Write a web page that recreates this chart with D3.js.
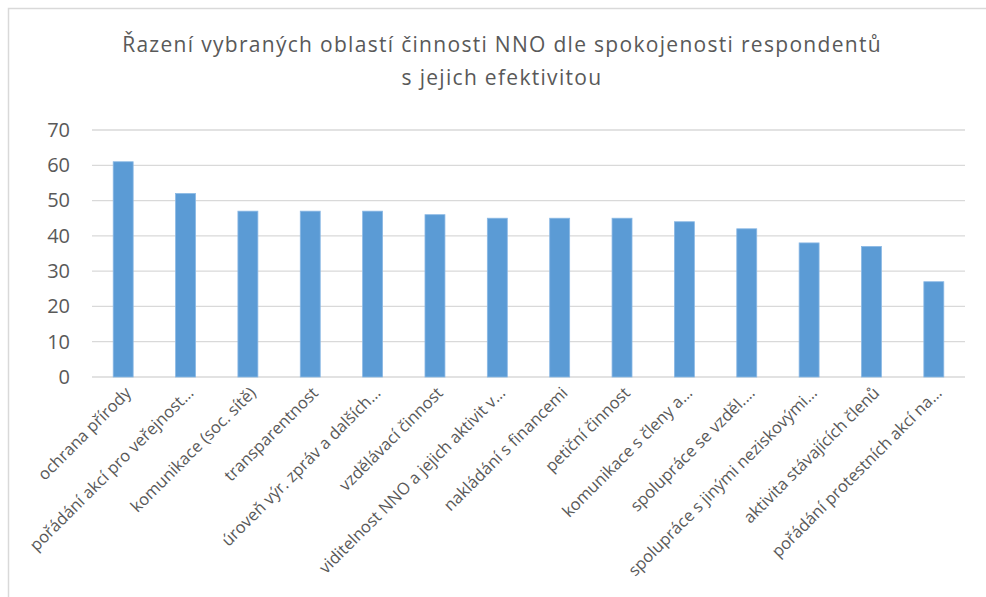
<!DOCTYPE html>
<html lang="cs">
<head>
<meta charset="utf-8">
<title>Řazení oblastí činnosti NNO</title>
<script src="https://d3js.org/d3.v7.min.js"></script>
<style>
  body { margin: 0; background: #fff; }
  text { font-family: "Open Sans", "Noto Sans", sans-serif; fill: #595959; }
</style>
</head>
<body>
<div id="chart"></div>
<script>
// data
const categories = [
  "ochrana přírody",
  "pořádání akcí pro veřejnost…",
  "komunikace (soc. sítě)",
  "transparentnost",
  "úroveň výr. zpráv a dalších…",
  "vzdělávací činnost",
  "viditelnost NNO a jejich aktivit v…",
  "nakládání s financemi",
  "petiční činnost",
  "komunikace s členy a…",
  "spolupráce se vzděl.…",
  "spolupráce s jinými neziskovými…",
  "aktivita stávajících členů",
  "pořádání protestních akcí na…"
];
const values = [61, 52, 47, 47, 47, 46, 45, 45, 45, 44, 42, 38, 37, 27];
const yTicks = [0, 10, 20, 30, 40, 50, 60, 70];
const titleLines = [
  "Řazení vybraných oblastí činnosti NNO dle spokojenosti respondentů",
  "s jejich efektivitou"
];

const W = 986, H = 597;
const margin = { top: 130, right: 21, bottom: 220, left: 92 };
const width = W - margin.left - margin.right,
      height = H - margin.top - margin.bottom;

const svg = d3.select("#chart").append("svg")
  .attr("width", W)
  .attr("height", H);

// chart frame (only left and top edges visible in the reference)
svg.append("path")
  .attr("d", `M8.5,${H} V8.5 H${W}`)
  .attr("fill", "none")
  .attr("stroke", "#d9d9d9")
  .attr("stroke-width", 1.5);

// title
svg.append("text")
  .attr("text-anchor", "middle")
  .attr("font-size", 21)
  .attr("letter-spacing", 1.3)
  .selectAll("tspan")
  .data(titleLines)
  .join("tspan")
  .attr("x", 502)
  .attr("y", (d, i) => 52 + i * 33)
  .text(d => d);

const g = svg.append("g")
  .attr("transform", `translate(${margin.left},${margin.top})`);

const x = d3.scaleBand()
  .domain(categories)
  .range([0, width])
  .paddingInner(0.68)
  .paddingOuter(0.34);

const y = d3.scaleLinear()
  .domain([0, 70])
  .range([height, 0]);

// gridlines
g.selectAll(".grid")
  .data(yTicks)
  .join("line")
  .attr("x1", 0)
  .attr("x2", width)
  .attr("y1", d => y(d))
  .attr("y2", d => y(d))
  .attr("stroke", "#d9d9d9")
  .attr("stroke-width", 1.3);

// y axis labels
const yAxis = g.append("g")
  .call(d3.axisLeft(y).tickValues(yTicks).tickSize(0).tickPadding(22));
yAxis.select(".domain").remove();
yAxis.selectAll("text")
  .attr("font-size", 20)
  .attr("fill", "#595959")
  .attr("font-family", "'Open Sans', sans-serif");

// bars
g.selectAll(".bar")
  .data(values)
  .join("rect")
  .attr("x", (d, i) => x(categories[i]))
  .attr("y", d => y(d))
  .attr("width", x.bandwidth())
  .attr("height", d => height - y(d))
  .attr("fill", "#5b9bd5")
  .attr("stroke", "#8ab8e4")
  .attr("stroke-width", 0.8);

// x axis labels, rotated
const xAxis = g.append("g")
  .attr("transform", `translate(0,${height})`)
  .call(d3.axisBottom(x).tickSize(0).tickPadding(0));
xAxis.select(".domain").remove();
xAxis.selectAll("text")
  .attr("font-size", 16.5)
  .attr("fill", "#595959")
  .attr("font-family", "'Open Sans', sans-serif")
  .attr("text-anchor", "end")
  .attr("dy", 0)
  .attr("y", 0)
  .attr("transform", "translate(9,17) rotate(-45)");
</script>
</body>
</html>
